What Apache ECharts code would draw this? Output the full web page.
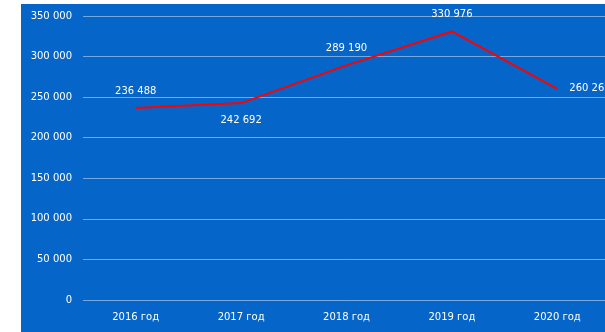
<!DOCTYPE html>
<html>
<head>
<meta charset="utf-8">
<script src="https://cdn.jsdelivr.net/npm/echarts@6/dist/echarts.min.js"></script>
<style>
  html, body { margin: 0; padding: 0; background: #fff; overflow: hidden; width: 605px; height: 332px; }
  #chart { position: absolute; left: 21px; top: 4px; width: 589px; height: 328px; }
</style>
</head>
<body>
<div id="chart"></div>
<script>
// данные
var years = ['2016 год', '2017 год', '2018 год', '2019 год', '2020 год']
var values = [236488, 242692, 289190, 330976, 260269]
// где подпись у каждой точки
var labelPos = ['top', 'bottom', 'top', 'top', 'right']

function fmt (v) {
  return String(v).replace(/\B(?=(\d{3})+(?!\d))/g, ' ')
}

var chart = echarts.init(document.getElementById('chart'))
chart.setOption({
  backgroundColor: '#0565c9',
  animation: false,
  textStyle: { fontFamily: 'DejaVu Sans' },
  grid: { left: 62, right: 0, top: 12, bottom: 32 },
  xAxis: {
    type: 'category',
    data: years,
    boundaryGap: true,
    axisLine: { show: false },
    axisTick: { show: false },
    axisLabel: { color: '#fff', fontSize: 10, margin: 12 }
  },
  yAxis: {
    type: 'value',
    min: 0,
    max: 350000,
    interval: 50000,
    axisLabel: { color: '#fff', fontSize: 10, margin: 11, formatter: fmt },
    splitLine: { lineStyle: { color: 'rgba(255,255,255,0.45)', width: 1 } }
  },
  series: [{
    type: 'line',
    data: values.map(function (v, i) {
      return { value: v, label: { position: labelPos[i] } }
    }),
    showSymbol: true,
    symbol: 'circle',
    symbolSize: 0,
    lineStyle: { color: '#ff0000', width: 2 },
    label: {
      show: true,
      color: '#fff',
      fontSize: 10,
      distance: 12,
      formatter: function (p) { return fmt(p.value) }
    }
  }]
})
</script>
</body>
</html>
